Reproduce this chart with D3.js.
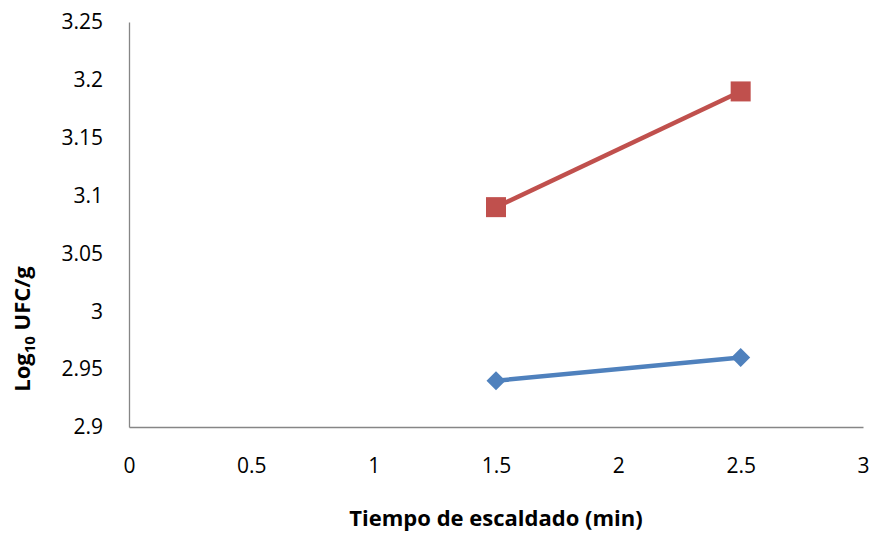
<!DOCTYPE html>
<html>
<head>
<meta charset="utf-8">
<script src="https://cdn.jsdelivr.net/npm/d3@7"></script>
<style>
  body { margin: 0; background: #fff; }
  svg { display: block; }
  text { font-family: "Open Sans", "Noto Sans", sans-serif; fill: #000; }
</style>
</head>
<body>
<svg id="chart" width="869" height="533"></svg>
<script>
const xTicks = [0, 0.5, 1, 1.5, 2, 2.5, 3];
const yTicks = [2.9, 2.95, 3, 3.05, 3.1, 3.15, 3.2, 3.25];
const xValues = [1.5, 2.5];
const seriesBlue = [2.94, 2.96];
const seriesRed = [3.09, 3.19];
const xTitle = "Tiempo de escaldado (min)";

const svg = d3.select("#chart");
const mLeft = 129, mRight = 863, mTop = 22, mBottom = 427;
const x = d3.scaleLinear().domain([0, 3]).range([mLeft, mRight]);
const y = d3.scaleLinear().domain([2.9, 3.25]).range([mBottom, mTop]);

// axes
const yAxis = svg.append("g").attr("transform", `translate(${mLeft},0)`)
  .call(d3.axisLeft(y).tickValues(yTicks).tickSize(0).tickPadding(26).tickFormat(d => String(+d.toFixed(2))));
const xAxis = svg.append("g").attr("transform", `translate(0,${mBottom})`)
  .call(d3.axisBottom(x).tickValues(xTicks).tickSize(0).tickPadding(31).tickFormat(d => String(d)));
[yAxis, xAxis].forEach(a => {
  a.attr("font-size", 21).attr("font-family", '"Open Sans", "Noto Sans", sans-serif');
  a.select(".domain").attr("stroke", "#868686").attr("stroke-width", 1.3);
  a.selectAll("text").attr("fill", "#000");
});

const line = d3.line().x(d => x(d[0])).y(d => y(d[1]));
const blue = xValues.map((v, i) => [v, seriesBlue[i]]);
const red = xValues.map((v, i) => [v, seriesRed[i]]);

svg.append("path").datum(blue).attr("d", line).attr("fill", "none")
  .attr("stroke", "#4F81BD").attr("stroke-width", 4.5);
svg.append("path").datum(red).attr("d", line).attr("fill", "none")
  .attr("stroke", "#C0504D").attr("stroke-width", 4.5);

svg.selectAll(".diamond").data(blue).enter().append("path")
  .attr("d", d3.symbol().type(d3.symbolDiamond2).size(230))
  .attr("transform", d => `translate(${x(d[0])},${y(d[1])})`)
  .attr("fill", "#4F81BD");
svg.selectAll(".square").data(red).enter().append("rect")
  .attr("x", d => x(d[0]) - 10).attr("y", d => y(d[1]) - 10)
  .attr("width", 20).attr("height", 20)
  .attr("fill", "#C0504D");

// titles
svg.append("text").attr("x", 496).attr("y", 526).attr("text-anchor", "middle")
  .attr("font-size", 22).attr("font-weight", "bold").text(xTitle);
const yt = svg.append("text").attr("transform", "translate(30,329) rotate(-90)")
  .attr("text-anchor", "middle").attr("font-size", 22).attr("font-weight", "bold");
yt.append("tspan").text("Log");
yt.append("tspan").attr("dy", 5).attr("font-size", 15).text("10");
yt.append("tspan").attr("dy", -5).text(" UFC/g");
</script>
</body>
</html>
